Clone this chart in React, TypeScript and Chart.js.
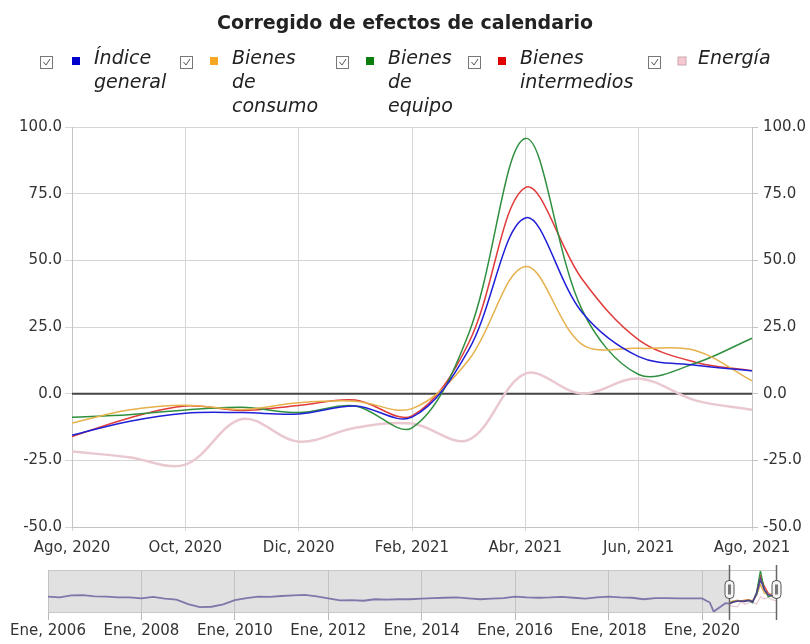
import React, { useEffect, useRef } from "react";
import { Chart, registerables } from "chart.js";
Chart.register(...registerables);

// ---------- data ----------
const months = [
  "Ago, 2020", "Sep, 2020", "Oct, 2020", "Nov, 2020", "Dic, 2020", "Ene, 2021",
  "Feb, 2021", "Mar, 2021", "Abr, 2021", "May, 2021", "Jun, 2021", "Jul, 2021", "Ago, 2021",
];
const indiceGeneral = [-15.6, -10.4, -7.3, -7.1, -7.6, -4.6, -8.8, 16.4, 65.9, 30.5, 13.9, 10.7, 8.6];
const bienesConsumo = [-11.0, -6.1, -4.3, -5.9, -3.4, -2.8, -5.6, 12.6, 47.7, 18.5, 17.0, 16.2, 4.8];
const bienesEquipo = [-8.8, -7.9, -6.1, -5.1, -7.1, -4.6, -12.8, 22.5, 95.7, 31.5, 7.2, 11.4, 20.8];
const bienesIntermedios = [-16.1, -9.2, -4.6, -6.3, -4.4, -2.4, -8.3, 19.0, 77.3, 43.0, 20.2, 11.8, 8.6];
const energia = [-21.7, -23.8, -26.6, -9.5, -18.0, -12.8, -11.2, -17.3, 7.5, 0.0, 5.7, -2.5, -6.0];

const seriesLabels = [
  ["Índice", "general"],
  ["Bienes", "de", "consumo"],
  ["Bienes", "de", "equipo"],
  ["Bienes", "intermedios"],
  ["Energía"],
];
const lineColors = ["#2020d8", "#e6b04a", "#2f8f3f", "#e03a3a", "#e9c8d0"];
const markerColors = ["#0000cc", "#f5a623", "#0a7d0a", "#e00000", "#f8c8d0"];

const titleText = "Corregido de efectos de calendario";
const yMin = -50;
const yMax = 100;
const yStep = 25;

// navigator (months counted from Ene, 2006)
const navTickLabels = ["Ene, 2006", "Ene, 2008", "Ene, 2010", "Ene, 2012", "Ene, 2014", "Ene, 2016", "Ene, 2018", "Ene, 2020"];
const navHistoryMonths = [
  0, 3, 6, 9, 12, 15, 18, 21, 24, 27, 30, 33, 36, 39, 42, 45, 48, 51, 54, 57, 60, 63, 66, 69,
  72, 75, 78, 81, 84, 87, 90, 93, 96, 99, 102, 105, 108, 111, 114, 117, 120, 123, 126, 129,
  132, 135, 138, 141, 144, 147, 150, 153, 156, 159, 162, 165, 168, 170, 171, 174,
];
const navHistoryGeneral = [
  7.8, 5.6, 12, 13, 9, 7.8, 5.6, 5, 2, 7, 1, -2, -17, -27, -26, -18, -4, 3, 8, 7, 10, 12, 14, 9,
  2, -5, -4, -6, -1, -2, -1, -1, 1, 3, 4, 5, 2, -1, 1, 3, 8, 5, 4, 5,
  7, 4, 1, 5, 8, 5, 4, -1, 3, 3, 2, 2, 2, -12, -42, -14,
];
const navWindowStart = 175; // Ago, 2020
const navMax = 187; // Ago, 2021
const navYMin = -47;
const navYMax = 97;

const FONT = '"DejaVu Sans", Verdana, Tahoma, sans-serif';

export default function App() {
  const mainRef = useRef<HTMLCanvasElement>(null);
  const navRef = useRef<HTMLCanvasElement>(null);

  useEffect(() => {
    const allSeries = [indiceGeneral, bienesConsumo, bienesEquipo, bienesIntermedios, energia];

    const headerPlugin = {
      id: "header",
      afterDraw(chart: any) {
        const ctx = chart.ctx;
        ctx.save();
        ctx.fillStyle = "#222";
        ctx.font = `bold 19px ${FONT}`;
        ctx.textAlign = "center";
        ctx.textBaseline = "alphabetic";
        ctx.fillText(titleText, 405, 29);

        const pos = [
          { cb: 47, sq: 76, tx: 94 },
          { cb: 187, sq: 214, tx: 232 },
          { cb: 343, sq: 370, tx: 388 },
          { cb: 475, sq: 502, tx: 520 },
          { cb: 655, sq: 682, tx: 698 },
        ];
        seriesLabels.forEach((lines, i) => {
          const p = pos[i];
          // checkbox
          ctx.fillStyle = "#fff";
          ctx.strokeStyle = "#777";
          ctx.lineWidth = 1;
          ctx.fillRect(p.cb - 6.5, 56.5, 12, 12);
          ctx.strokeRect(p.cb - 6.5, 56.5, 12, 12);
          ctx.strokeStyle = "#555";
          ctx.beginPath();
          ctx.moveTo(p.cb - 3.5, 62);
          ctx.lineTo(p.cb - 1, 65);
          ctx.lineTo(p.cb + 3, 59);
          ctx.stroke();
          // marker
          ctx.fillStyle = markerColors[i];
          ctx.fillRect(p.sq - 4, 57, 8, 8);
          if (i === 4) {
            ctx.strokeStyle = "#c8a8b0";
            ctx.strokeRect(p.sq - 4, 57, 8, 8);
          }
          // text
          ctx.fillStyle = "#222";
          ctx.font = `italic 19px ${FONT}`;
          ctx.textAlign = "left";
          lines.forEach((t, j) => ctx.fillText(t, p.tx, 64 + j * 24));
        });
        ctx.restore();
      },
      beforeDatasetsDraw(chart: any) {
        const ctx = chart.ctx;
        const ca = chart.chartArea;
        const y0 = chart.scales.y.getPixelForValue(0);
        ctx.save();
        ctx.strokeStyle = "#444";
        ctx.lineWidth = 2;
        ctx.beginPath();
        ctx.moveTo(ca.left, y0);
        ctx.lineTo(ca.right, y0);
        ctx.stroke();
        ctx.restore();
      },
    };

    const yTicksCfg = (left: boolean) => ({
      min: yMin,
      max: yMax,
      ticks: {
        stepSize: yStep,
        callback: (v: any) => Number(v).toFixed(1),
        font: { family: FONT, size: 15 },
        color: "#333",
        padding: left ? 3 : 5,
      },
    });

    const main = new Chart(mainRef.current!, {
      type: "line",
      data: {
        labels: months,
        datasets: allSeries.map((d, i) => ({
          label: seriesLabels[i].join(" "),
          data: d,
          borderColor: lineColors[i],
          backgroundColor: lineColors[i],
          borderWidth: i === 4 ? 2.5 : 1.5,
          pointRadius: 0,
          tension: 0.35,
          fill: false,
        })),
      },
      options: {
        animation: false,
        responsive: false,
        maintainAspectRatio: false,
        layout: { padding: { top: 127, left: 0, right: 0, bottom: 0 } },
        plugins: {
          legend: { display: false },
          title: { display: false },
          tooltip: { enabled: false },
        },
        scales: {
          x: {
            type: "category",
            offset: false,
            grid: { color: "#d6d6d6", tickLength: 4 },
            border: { color: "#c4c4c4" },
            ticks: {
              autoSkip: false,
              maxRotation: 0,
              minRotation: 0,
              padding: 8,
              font: { family: FONT, size: 15 },
              color: "#333",
              callback: (_v: any, idx: number) => (idx % 2 === 0 ? months[idx] : null),
            },
            afterFit: (s: any) => {
              s.height = 33;
            },
          },
          y: {
            position: "left",
            ...yTicksCfg(true),
            grid: { color: "#d6d6d6", tickLength: 7 },
            border: { color: "#c4c4c4" },
            afterFit: (s: any) => {
              s.width = 72;
            },
          },
          y2: {
            position: "right",
            ...yTicksCfg(false),
            grid: { drawOnChartArea: false, color: "#c4c4c4", tickLength: 6 },
            border: { color: "#c4c4c4" },
            afterFit: (s: any) => {
              s.width = 58;
            },
          },
        } as any,
      },
      plugins: [headerPlugin],
    } as any);

    // navigator
    const navPlugin = {
      id: "navDeco",
      beforeDraw(chart: any) {
        const ctx = chart.ctx;
        const ca = chart.chartArea;
        const xs = chart.scales.x;
        const wx = xs.getPixelForValue(navWindowStart);
        ctx.save();
        ctx.fillStyle = "#e2e2e2";
        ctx.fillRect(ca.left, ca.top, wx - ca.left, ca.bottom - ca.top);
        ctx.fillStyle = "#fff";
        ctx.fillRect(wx, ca.top, ca.right - wx, ca.bottom - ca.top);
        ctx.restore();
      },
      afterDatasetsDraw(chart: any) {
        const ctx = chart.ctx;
        const ca = chart.chartArea;
        const xs = chart.scales.x;
        const wx = xs.getPixelForValue(navWindowStart);
        const we = xs.getPixelForValue(navMax);
        ctx.save();
        ctx.fillStyle = "rgba(222,222,222,0.3)";
        ctx.fillRect(ca.left, ca.top, wx - ca.left, ca.bottom - ca.top);
        ctx.strokeStyle = "#c8c8c8";
        ctx.lineWidth = 1;
        ctx.beginPath();
        ctx.moveTo(ca.left, ca.top + 0.5);
        ctx.lineTo(ca.right, ca.top + 0.5);
        ctx.moveTo(ca.left, ca.bottom - 0.5);
        ctx.lineTo(ca.right, ca.bottom - 0.5);
        ctx.stroke();
        [wx, we].forEach((x) => {
          const px = Math.round(x) + 0.5;
          ctx.strokeStyle = "#666";
          ctx.lineWidth = 1.5;
          ctx.beginPath();
          ctx.moveTo(px, ca.top - 5);
          ctx.lineTo(px, ca.bottom + 7);
          ctx.stroke();
          const hy = (ca.top + ca.bottom) / 2 - 2;
          ctx.fillStyle = "#f4f4f4";
          ctx.strokeStyle = "#555";
          ctx.lineWidth = 1;
          ctx.beginPath();
          (ctx as any).roundRect(px - 4.5, hy - 9, 9, 18, 4);
          ctx.fill();
          ctx.stroke();
          ctx.fillStyle = "#777";
          ctx.fillRect(px - 1.5, hy - 5, 3, 10);
        });
        ctx.restore();
      },
    };

    const windowPts = (arr: number[]) => arr.map((v, i) => ({ x: navWindowStart + i, y: v }));
    const generalNav = navHistoryMonths
      .map((m, i) => ({ x: m, y: navHistoryGeneral[i] }))
      .concat(windowPts(indiceGeneral));

    const navDatasets: any[] = [
      { data: windowPts(energia), borderColor: lineColors[4], borderWidth: 1.2 },
      { data: windowPts(bienesIntermedios), borderColor: lineColors[3], borderWidth: 1.2 },
      { data: windowPts(bienesEquipo), borderColor: lineColors[2], borderWidth: 1.2 },
      { data: windowPts(bienesConsumo), borderColor: lineColors[1], borderWidth: 1.2 },
      { data: generalNav, borderColor: "rgba(70,60,140,0.9)", borderWidth: 1.8 },
    ].map((d) => ({ ...d, pointRadius: 0, tension: 0, fill: false }));
    navDatasets.reverse(); // general drawn on top

    const nav = new Chart(navRef.current!, {
      type: "line",
      data: { datasets: navDatasets },
      options: {
        animation: false,
        responsive: false,
        maintainAspectRatio: false,
        layout: { padding: { top: 15, left: 48, right: 34, bottom: 0 } },
        plugins: { legend: { display: false }, tooltip: { enabled: false } },
        scales: {
          x: {
            type: "linear",
            min: 0,
            max: navMax,
            grid: { color: "#b8b8b8", tickLength: 7 },
            border: { display: false },
            ticks: {
              stepSize: 24,
              autoSkip: false,
              maxRotation: 0,
              padding: 2,
              font: { family: FONT, size: 15 },
              color: "#333",
              callback: (v: any) => {
                const k = Number(v) / 24;
                return Number.isInteger(k) && navTickLabels[k] ? navTickLabels[k] : null;
              },
            },
            afterFit: (s: any) => {
              s.height = 31;
            },
          },
          y: { display: false, min: navYMin, max: navYMax },
        } as any,
      },
      plugins: [navPlugin],
    } as any);

    return () => {
      main.destroy();
      nav.destroy();
    };
  }, []);

  return (
    <div style={{ position: "fixed", left: 0, top: 0, width: 810, height: 644, background: "#fff" }}>
      <canvas ref={mainRef} width={810} height={560} style={{ position: "absolute", left: 0, top: 0, width: 810, height: 560 }} />
      <canvas ref={navRef} width={810} height={89} style={{ position: "absolute", left: 0, top: 555, width: 810, height: 89 }} />
    </div>
  );
}
